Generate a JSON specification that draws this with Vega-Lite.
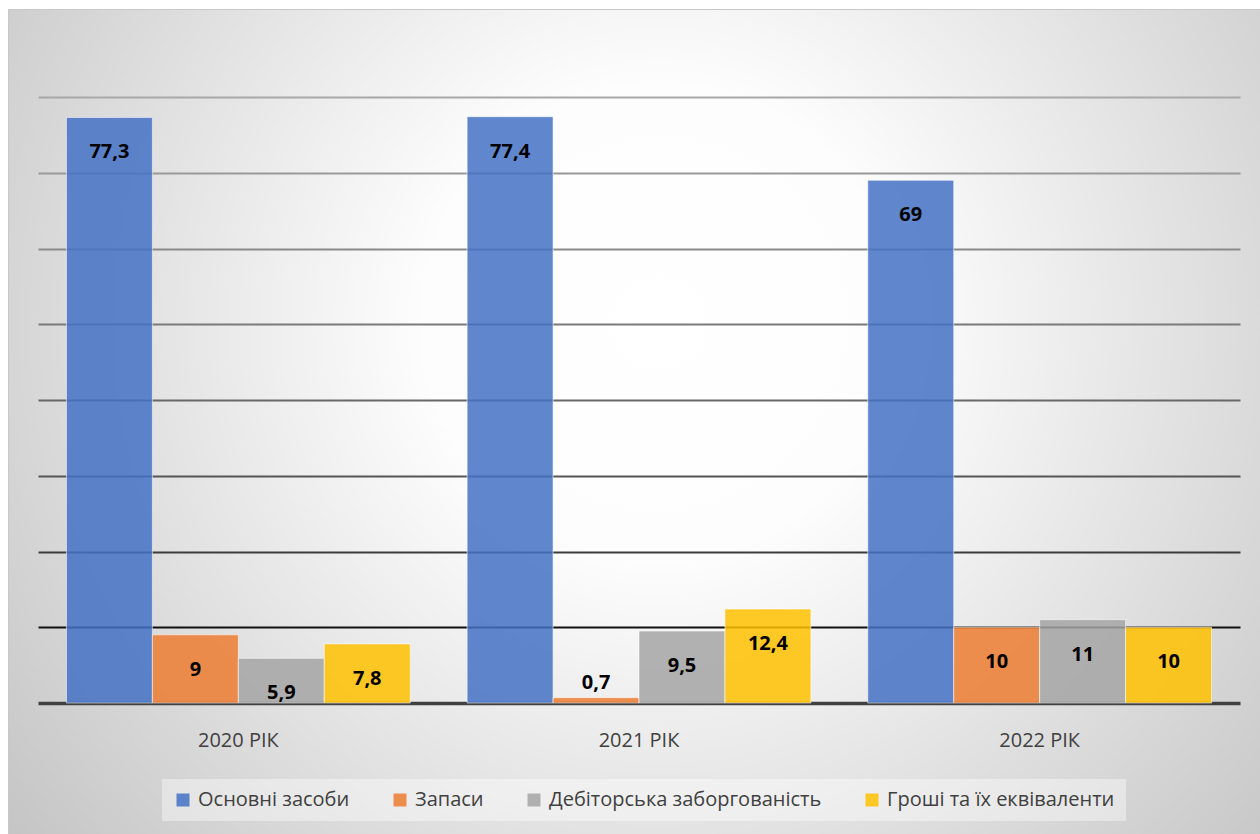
{
  "$schema": "https://vega.github.io/schema/vega-lite/v6.json",
  "width": 1252,
  "height": 825,
  "autosize": "none",
  "padding": {"left": 8, "top": 9, "right": 0, "bottom": 0},
  "background": "white",
  "data": {
    "values": [
      {"year": "2020 РІК", "series": "Основні засоби", "value": 77.3},
      {"year": "2020 РІК", "series": "Запаси", "value": 9},
      {"year": "2020 РІК", "series": "Дебіторська заборгованість", "value": 5.9},
      {"year": "2020 РІК", "series": "Гроші та їх еквіваленти", "value": 7.8},
      {"year": "2021 РІК", "series": "Основні засоби", "value": 77.4},
      {"year": "2021 РІК", "series": "Запаси", "value": 0.7},
      {"year": "2021 РІК", "series": "Дебіторська заборгованість", "value": 9.5},
      {"year": "2021 РІК", "series": "Гроші та їх еквіваленти", "value": 12.4},
      {"year": "2022 РІК", "series": "Основні засоби", "value": 69},
      {"year": "2022 РІК", "series": "Запаси", "value": 10},
      {"year": "2022 РІК", "series": "Дебіторська заборгованість", "value": 11},
      {"year": "2022 РІК", "series": "Гроші та їх еквіваленти", "value": 10}
    ]
  },
  "encoding": {
    "x": {
      "field": "year",
      "type": "nominal",
      "sort": null,
      "scale": {"range": [30, 1232], "paddingInner": 0.142, "paddingOuter": 0.071},
      "axis": {
        "title": null,
        "offset": -131,
        "ticks": false,
        "tickSize": 0,
        "grid": false,
        "labelAngle": 0,
        "labelFont": "Open Sans",
        "labelFontSize": 20,
        "labelColor": "#404040",
        "labelPadding": 27,
        "domainColor": "#404040",
        "domainWidth": 3.5
      }
    },
    "xOffset": {
      "field": "series",
      "type": "nominal",
      "scale": {
        "domain": ["Основні засоби", "Запаси", "Дебіторська заборгованість", "Гроші та їх еквіваленти"],
        "paddingInner": 0,
        "paddingOuter": 0
      }
    },
    "y": {
      "field": "value",
      "type": "quantitative",
      "scale": {"domain": [0, 80], "range": [694, 88], "nice": false},
      "axis": {
        "title": null,
        "labels": false,
        "ticks": false,
        "domain": false,
        "values": [10, 20, 30, 40, 50, 60, 70, 80],
        "grid": true,
        "gridWidth": 2,
        "gridColor": {
          "condition": [
            {"test": "datum.value == 10", "value": "#111111"},
            {"test": "datum.value == 20", "value": "#3c3c3c"},
            {"test": "datum.value == 30", "value": "#555555"},
            {"test": "datum.value == 40", "value": "#686868"},
            {"test": "datum.value == 50", "value": "#7a7a7a"},
            {"test": "datum.value == 60", "value": "#8a8a8a"},
            {"test": "datum.value == 70", "value": "#999999"}
          ],
          "value": "#a8a8a8"
        }
      }
    }
  },
  "layer": [
    {
      "mark": {"type": "bar", "fillOpacity": 0.85, "stroke": "white", "strokeOpacity": 0.55, "strokeWidth": 1},
      "encoding": {
        "color": {
          "field": "series",
          "type": "nominal",
          "scale": {
            "domain": ["Основні засоби", "Запаси", "Дебіторська заборгованість", "Гроші та їх еквіваленти"],
            "range": ["#4472C4", "#ED7D31", "#A5A5A5", "#FFC000"]
          },
          "legend": {
            "title": null,
            "orient": "none",
            "direction": "horizontal",
            "legendX": 154,
            "legendY": 770,
            "padding": 11,
            "fillColor": "rgba(255,255,255,0.4)",
            "symbolType": "square",
            "symbolSize": 169,
            "symbolStrokeWidth": 0,
            "symbolOpacity": 0.85,
            "labelFont": "Open Sans",
            "labelFontSize": 20,
            "labelColor": "#404040",
            "labelOffset": 5,
            "columnPadding": 40,
            "labelLimit": 400
          }
        }
      }
    },
    {
      "transform": [{"filter": "datum.value >= 3"}],
      "mark": {"type": "text", "baseline": "middle", "dy": 35, "font": "Open Sans", "fontSize": 20, "fontWeight": "bold", "color": "#000000"},
      "encoding": {
        "text": {"field": "value", "type": "quantitative", "format": ".1~f"}
      }
    },
    {
      "transform": [{"filter": "datum.value < 3"}],
      "mark": {"type": "text", "baseline": "middle", "dy": -15, "font": "Open Sans", "fontSize": 20, "fontWeight": "bold", "color": "#000000"},
      "encoding": {
        "text": {"field": "value", "type": "quantitative", "format": ".1~f"}
      }
    }
  ],
  "config": {
    "locale": {"number": {"decimal": ",", "thousands": " ", "grouping": [3], "currency": ["", ""]}},
    "view": {
      "stroke": "#c8c8c8",
      "fill": {
        "gradient": "radial",
        "x1": 0.52, "y1": 0.42, "r1": 0,
        "x2": 0.52, "y2": 0.42, "r2": 0.75,
        "stops": [
          {"offset": 0, "color": "#ffffff"},
          {"offset": 0.25, "color": "#fdfdfd"},
          {"offset": 1, "color": "#bababa"}
        ]
      }
    }
  }
}
